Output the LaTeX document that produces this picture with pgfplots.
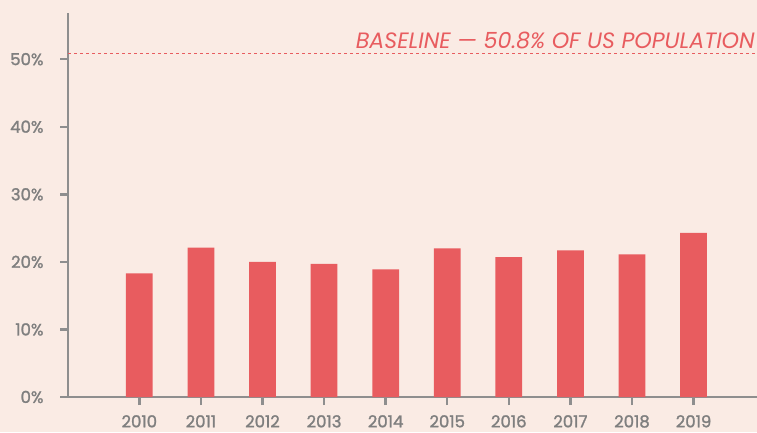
\documentclass[border=0pt]{standalone}
\usepackage{fontspec}
\setmainfont{Poppins}
\newfontfamily\tickfont[FakeBold=1.5]{Poppins}
\usepackage{pgfplots}
\pgfplotsset{compat=1.18}
\definecolor{bg}{HTML}{FAEBE4}
\definecolor{barc}{HTML}{E85C5F}
\definecolor{axg}{HTML}{8E8E8E}
\definecolor{txg}{HTML}{7F7F7F}
\begin{document}
\begin{tikzpicture}[x=1pt,y=1pt]
\fill[bg] (0,0) rectangle (757,432);
\useasboundingbox (0,0) rectangle (757,432);
\begin{axis}[
  at={(68pt,35pt)}, anchor=south west,
  scale only axis, width=689pt, height=384pt,
  xmin=-1.158, xmax=10.03, ymin=0, ymax=56.84,
  axis x line=bottom, axis y line=left,
  axis line style={axg, line width=2.4pt, -},
  xtick={0,...,9},
  xticklabels={2010,2011,2012,2013,2014,2015,2016,2017,2018,2019},
  ytick={0,10,20,30,40,50},
  yticklabel={\pgfmathprintnumber{\tick}\%},
  /pgf/number format/assume math mode=true,
  tick style={axg, line width=2.4pt},
  major tick length=8pt,
  tick align=outside,
  every tick label/.append style={txg, font=\tickfont\fontsize{16.5}{18}\selectfont},
  xticklabel style={inner sep=0pt, anchor=north, yshift=-10pt},
  yticklabel style={xshift=-13pt},
  clip=false,
]
\draw[axg, line width=2.4pt] (axis cs:-1.158,0) -- ++(-7pt,0);
\addplot[ybar, bar width=26.7pt, fill=barc, draw=none] coordinates {
 (0,18.3) (1,22.1) (2,20.0) (3,19.7) (4,18.9) (5,22.0) (6,20.7) (7,21.7) (8,21.1) (9,24.3)};
\draw[barc, line width=1pt, dash pattern=on 3pt off 3pt] (axis cs:-1.158,50.8) -- (axis cs:10.03,50.8);
\node[anchor=south east, barc, inner sep=0pt, font=\fontsize{22.2}{24}\selectfont\itshape] at ([xshift=-2pt,yshift=5pt]axis cs:10.03,50.8) {BASELINE — 50.8\% OF US POPULATION};
\end{axis}
\end{tikzpicture}
\end{document}
